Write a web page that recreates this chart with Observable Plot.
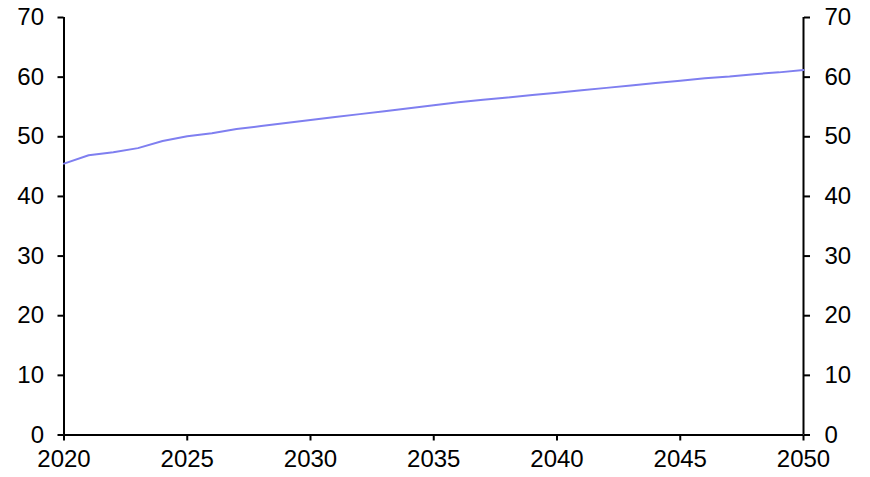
<!DOCTYPE html>
<html>
<head>
<meta charset="utf-8">
<script src="https://cdn.jsdelivr.net/npm/d3@7"></script>
<script src="https://cdn.jsdelivr.net/npm/@observablehq/plot@0.6"></script>
<style>
  html, body { margin: 0; padding: 0; background: #fff; }
</style>
</head>
<body>
<div id="chart"></div>
<script>
const years = [2020,2021,2022,2023,2024,2025,2026,2027,2028,2029,2030,2031,2032,2033,2034,2035,2036,2037,2038,2039,2040,2041,2042,2043,2044,2045,2046,2047,2048,2049,2050];
const values = [45.5,46.9,47.4,48.1,49.3,50.1,50.6,51.3,51.8,52.3,52.8,53.3,53.8,54.3,54.8,55.3,55.8,56.2,56.6,57.0,57.4,57.8,58.2,58.6,59.0,59.4,59.8,60.1,60.5,60.8,61.2];
const xTicks = [2020,2025,2030,2035,2040,2045,2050];
const yTicks = [0,10,20,30,40,50,60,70];

const data = years.map((y, i) => ({year: y, value: values[i]}));

const chart = Plot.plot({
  width: 870,
  height: 477,
  marginLeft: 63.5,
  marginRight: 67,
  marginTop: 17,
  marginBottom: 42.5,
  style: {fontFamily: "'Liberation Sans', Arial, sans-serif", fontSize: "24px", color: "#000", background: "#fff"},
  x: {domain: [2020, 2050]},
  y: {domain: [0, 70]},
  marks: [
    Plot.axisX({ticks: xTicks, tickFormat: d => String(d), tickSize: 6, tickPadding: 9, strokeWidth: 2, fontSize: 24, label: null}),
    Plot.axisY({anchor: "left", ticks: yTicks, tickSize: 6, tickPadding: 14, strokeWidth: 2, fontSize: 24, label: null}),
    Plot.axisY({anchor: "right", ticks: yTicks, tickSize: 6, tickPadding: 15, strokeWidth: 2, fontSize: 24, label: null}),
    Plot.ruleX([2020, 2050], {stroke: "#000", strokeWidth: 2}),
    Plot.ruleY([0], {stroke: "#000", strokeWidth: 2}),
    Plot.line(data, {x: "year", y: "value", stroke: "#7f7ff0", strokeWidth: 2})
  ]
});
document.getElementById("chart").appendChild(chart);
</script>
</body>
</html>
